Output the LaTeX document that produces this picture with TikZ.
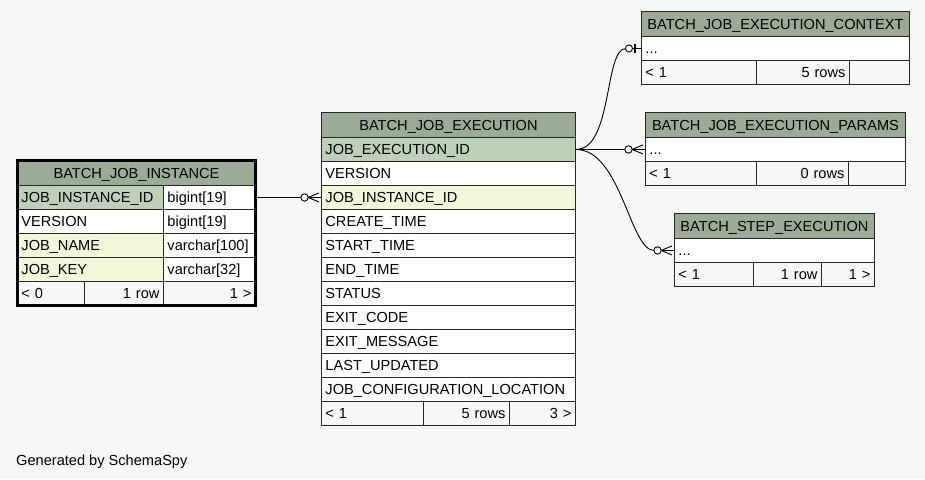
\documentclass[tikz,border=0pt]{standalone}
\usepackage{fontspec}
\setmainfont{Liberation Sans}

\definecolor{bgc}{HTML}{F7F7F7}
\definecolor{hdrc}{HTML}{9BAB96}
\definecolor{pkc}{HTML}{BED1B8}
\definecolor{ixc}{HTML}{F4F7DA}

\tikzset{
  cell/.style={draw=black!85, line width=0.9pt, fill=white, anchor=north west,
    inner xsep=4pt, inner ysep=0pt, minimum height=24pt,
    text height=10.4pt, text depth=0pt, align=left},
  hdr/.style={cell, fill=hdrc, minimum height=25pt},
  rcell/.style={cell, align=right},
  foot/.style={cell, fill=bgc},
  rfoot/.style={foot, align=right},
  crowodot/.pic={
    \draw[line width=0.9pt] (-13,0) -- (-2,-4.5) (-13,0) -- (-2,4.5);
    \draw[line width=0.9pt, fill=white] (-16.5,0) circle (3.7pt);
  },
  teeodot/.pic={
    \draw[line width=2pt] (-6,-4.5) -- (-6,4.5);
    \draw[line width=0.9pt, fill=white] (-12,0) circle (3.5pt);
  }
}

\begin{document}
\begin{tikzpicture}[x=1pt, y=-1pt, font=\fontsize{14.6}{17}\selectfont]
     \fill[bgc] (0,0) rectangle (925,479);

     % BATCH_JOB_INSTANCE
     \path (17,160) node[hdr, minimum width=238pt] (ihead) {BATCH\_JOB\_INSTANCE};
     \path (17,185) node[cell, fill=pkc, text width=138pt] (iid) {JOB\_INSTANCE\_ID};
     \path (163,185) node[cell, text width=84pt] (iidt) {bigint[19]};
     \path (17,209) node[cell, text width=138pt] (iver) {VERSION};
     \path (163,209) node[cell, text width=84pt] (ivert) {bigint[19]};
     \path (17,233) node[cell, fill=ixc, text width=138pt] (iname) {JOB\_NAME};
     \path (163,233) node[cell, text width=84pt] (inamet) {varchar[100]};
     \path (17,257) node[cell, fill=ixc, text width=138pt] (ikey) {JOB\_KEY};
     \path (163,257) node[cell, text width=84pt] (ikeyt) {varchar[32]};
     \path (17,281) node[foot, text width=59pt] (if1) {< 0};
     \path (84,281) node[rfoot, text width=71pt] (if2) {1 row};
     \path (163,281) node[rfoot, text width=84pt] (if3) {1 >};
     \draw[line width=3pt] (ihead.north west) rectangle (if3.south east);

     % BATCH_JOB_EXECUTION
     \path (321,112) node[hdr, minimum width=254pt] (ehead) {BATCH\_JOB\_EXECUTION};
     \path (321,137) node[cell, fill=pkc, text width=246pt] (eid) {JOB\_EXECUTION\_ID};
     \path (321,161) node[cell, text width=246pt] (ever) {VERSION};
     \path (321,185) node[cell, fill=ixc, text width=246pt] (eji) {JOB\_INSTANCE\_ID};
     \path (321,209) node[cell, text width=246pt] (ecre) {CREATE\_TIME};
     \path (321,233) node[cell, text width=246pt] (esta) {START\_TIME};
     \path (321,257) node[cell, text width=246pt] (eend) {END\_TIME};
     \path (321,281) node[cell, text width=246pt] (estat) {STATUS};
     \path (321,305) node[cell, text width=246pt] (ecode) {EXIT\_CODE};
     \path (321,329) node[cell, text width=246pt] (emsg) {EXIT\_MESSAGE};
     \path (321,353) node[cell, text width=246pt] (eupd) {LAST\_UPDATED};
     \path (321,377) node[cell, text width=246pt] (eloc) {JOB\_CONFIGURATION\_LOCATION};
     \path (321,401) node[foot, text width=94pt] (ef1) {< 1};
     \path (423,401) node[rfoot, text width=78pt] (ef2) {5 rows};
     \path (509,401) node[rfoot, text width=58pt] (ef3) {3 >};

     % BATCH_JOB_EXECUTION_CONTEXT
     \path (641,11) node[hdr, minimum width=268pt] (chead) {BATCH\_JOB\_EXECUTION\_CONTEXT};
     \path (641,36) node[cell, text width=260pt] (ctx) {...};
     \path (641,60) node[foot, text width=107pt] (cf1) {< 1};
     \path (756,60) node[rfoot, text width=85pt] (cf2) {5 rows};
     \path (849,60) node[rfoot, text width=52pt] (cf3) {};

     % BATCH_JOB_EXECUTION_PARAMS
     \path (645,112) node[hdr, minimum width=260pt] (phead) {BATCH\_JOB\_EXECUTION\_PARAMS};
     \path (645,137) node[cell, text width=252pt] (prm) {...};
     \path (645,161) node[foot, text width=103pt] (pf1) {< 1};
     \path (756,161) node[rfoot, text width=84pt] (pf2) {0 rows};
     \path (848,161) node[rfoot, text width=49pt] (pf3) {};

     % BATCH_STEP_EXECUTION
     \path (674,213) node[hdr, minimum width=200pt] (shead) {BATCH\_STEP\_EXECUTION};
     \path (674,238) node[cell, text width=192pt] (stp) {...};
     \path (674,262) node[foot, text width=71pt] (sf1) {< 1};
     \path (753,262) node[rfoot, text width=60pt] (sf2) {1 row};
     \path (821,262) node[rfoot, text width=45pt] (sf3) {1 >};

     % relations
     \draw[line width=0.9pt] (iidt.east) -- (eji.west) pic {crowodot};
     \draw[line width=0.9pt] (eid.east) .. controls +(37,0) and +(-22,0) .. ([xshift=-15pt]ctx.west) -- (ctx.west) pic {teeodot};
     \draw[line width=0.9pt] (eid.east) -- (prm.west) pic {crowodot};
     \draw[line width=0.9pt] (eid.east) .. controls +(45,0) and +(-24,0) .. ([xshift=-20pt]stp.west) -- (stp.west) pic {crowodot};

     \path (16,465) node[anchor=base west, inner sep=0pt] (gen) {Generated by SchemaSpy};
\end{tikzpicture}
\end{document}
